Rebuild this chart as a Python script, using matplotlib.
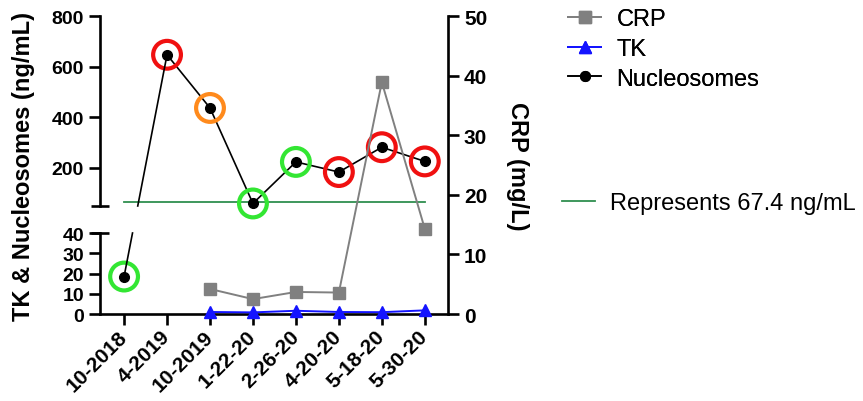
import numpy as np
import matplotlib.pyplot as plt
from matplotlib.lines import Line2D

plt.rcParams['font.family'] = ['Liberation Sans', 'DejaVu Sans']

dates = ['10-2018', '4-2019', '10-2019', '1-22-20', '2-26-20', '4-20-20', '5-18-20', '5-30-20']
nucleosomes = [18.5, 647, 437, 60, 224, 184, 282, 226]  # ng/mL
ring_colors = ['#33e633', '#f01010', '#ff8a1c', '#33e633', '#33e633', '#f01010', '#f01010', '#f01010']
crp = [4.2, 2.5, 3.7, 3.6, 38.9, 14.3]  # mg/L, from 10-2019 on
tk = [1.0, 0.8, 1.6, 1.0, 0.9, 1.8]     # ng/mL, from 10-2019 on
threshold = 67.4

x = np.arange(len(dates))
x_late = x[2:]

fig = plt.figure(figsize=(8.63, 4.02), dpi=100)
L, W = 0.1159, 0.4032
ax_bot = fig.add_axes([L, 0.2164, W, 0.2015])
ax_top = fig.add_axes([L, 0.4851, W, 0.4726])
ax_r = fig.add_axes([L, 0.2164, W, 0.7413])
ax_r.patch.set_visible(False)

xlim = (-0.56, 7.54)
for ax in (ax_bot, ax_top, ax_r):
    ax.set_xlim(xlim)
    for s in ax.spines.values():
        s.set_linewidth(1.9)
    ax.tick_params(width=1.9, length=8, labelsize=14)

# bottom segment (0-40)
ax_bot.set_ylim(0, 40)
ax_bot.set_yticks([0, 10, 20, 30, 40])
ax_bot.spines['top'].set_visible(False)
ax_bot.spines['right'].set_visible(False)
ax_bot.set_xticks(x)
ax_bot.set_xticklabels(dates, rotation=45, ha='right', va='center',
                       rotation_mode='anchor', fontweight='bold', fontsize=15)
ax_bot.tick_params(axis='x', pad=6)
for lab in ax_bot.get_yticklabels():
    lab.set_fontweight('bold')

# top segment (50-800)
ax_top.set_ylim(50, 800)
ax_top.set_yticks([200, 400, 600, 800])
for s in ('top', 'right', 'bottom'):
    ax_top.spines[s].set_visible(False)
ax_top.set_xticks([])
for lab in ax_top.get_yticklabels():
    lab.set_fontweight('bold')

# break caps
for ax, yy in ((ax_top, 0), (ax_bot, 1)):
    ax.plot([0], [yy], marker='_', ms=13, mew=1.9, color='black',
            transform=ax.transAxes, clip_on=False)

# right axis (CRP)
ax_r.set_ylim(0, 50)
ax_r.set_yticks([0, 10, 20, 30, 40, 50])
for s in ('top', 'left', 'bottom'):
    ax_r.spines[s].set_visible(False)
ax_r.yaxis.tick_right()
ax_r.set_xticks([])
for lab in ax_r.get_yticklabels():
    lab.set_fontweight('bold')
    lab.set_fontsize(15)
ax_r.set_ylabel('CRP (mg/L)', rotation=-90, labelpad=30, fontsize=17, fontweight='bold')
ax_r.yaxis.set_label_position('right')

fig.text(0.027, 0.585, 'TK & Nucleosomes (ng/mL)', rotation=90, ha='center', va='center',
         fontsize=17, fontweight='bold')

# threshold line
thr_line, = ax_top.plot([x[0], x[-1]], [threshold, threshold], color='#2f8f4f', lw=1.3, zorder=1)

# CRP and TK
crp_line, = ax_r.plot(x_late, crp, color='#808080', lw=1.4, marker='s', ms=8, zorder=2)
tk_line, = ax_bot.plot(x_late, tk, color='#1414ff', lw=1.4, marker='^', ms=8,
                       clip_on=False, zorder=3)

# nucleosomes
nuc_line, = ax_top.plot(x[1:], nucleosomes[1:], color='black', lw=1.2, marker='o', ms=7,
                        clip_on=False, zorder=4)
ax_bot.plot(x[:1], nucleosomes[:1], color='black', lw=1.2, marker='o', ms=7, zorder=4)
ax_bot.scatter(x[:1], nucleosomes[:1], s=20 ** 2, facecolors='none',
               edgecolors=ring_colors[:1], linewidths=3, clip_on=False, zorder=5)
ax_top.scatter(x[1:], nucleosomes[1:], s=20 ** 2, facecolors='none',
               edgecolors=ring_colors[1:], linewidths=3, clip_on=False, zorder=5)

# connector across the axis break (straight in display space)
p0 = ax_bot.transData.transform((x[0], nucleosomes[0]))
p1 = ax_top.transData.transform((x[1], nucleosomes[1]))
y_lo = ax_bot.transAxes.transform((0, 1))[1]
y_hi = ax_top.transAxes.transform((0, 0))[1]


def x_at(yv):
    return p0[0] + (p1[0] - p0[0]) * (yv - p0[1]) / (p1[1] - p0[1])


inv = fig.transFigure.inverted()
for a, b in ((p0, (x_at(y_lo), y_lo)), ((x_at(y_hi), y_hi), p1)):
    fa, fb = inv.transform(a), inv.transform(b)
    fig.add_artist(Line2D([fa[0], fb[0]], [fa[1], fb[1]], color='black', lw=1.2,
                          transform=fig.transFigure, zorder=4))

leg1 = fig.legend([crp_line, tk_line, nuc_line], ['CRP', 'TK', 'Nucleosomes'],
                  loc='upper left', bbox_to_anchor=(568 / 863, 1 - 9 / 402),
                  frameon=False, fontsize=17, handlelength=1.4, handletextpad=0.65,
                  labelspacing=0.33, borderpad=0, borderaxespad=0)
fig.legend([thr_line], ['Represents 67.4 ng/mL'], loc='center left',
           bbox_to_anchor=(562 / 863, 1 - 204 / 402), frameon=False, fontsize=17,
           handlelength=1.4, handletextpad=0.65, borderpad=0, borderaxespad=0)
fig.add_artist(leg1)

fig.savefig('out.png', dpi=100)
